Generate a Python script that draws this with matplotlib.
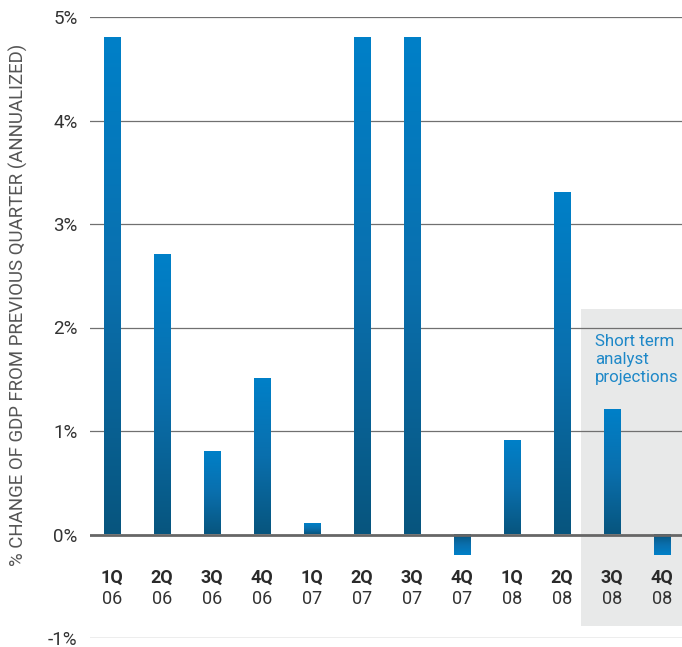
import numpy as np
import matplotlib
matplotlib.use("Agg")
import matplotlib.pyplot as plt
from matplotlib.patches import Rectangle
from matplotlib.colors import LinearSegmentedColormap

plt.rcParams["font.family"] = ["Roboto", "DejaVu Sans"]

# Data
quarters = ["1Q", "2Q", "3Q", "4Q", "1Q", "2Q", "3Q", "4Q", "1Q", "2Q", "3Q", "4Q"]
years = ["06", "06", "06", "06", "07", "07", "07", "07", "08", "08", "08", "08"]
gdp_change = [4.8, 2.7, 0.8, 1.5, 0.1, 4.8, 4.8, -0.2, 0.9, 3.3, 1.2, -0.2]
y_ticks = [-1, 0, 1, 2, 3, 4, 5]
y_tick_labels = ["-1%", "0%", "1%", "2%", "3%", "4%", "5%"]
projection_start = 9.38
projection_range = (-0.88, 2.18)

fig = plt.figure(figsize=(6.82, 6.47), dpi=100)
ax = fig.add_axes([90 / 682, 9 / 647, 1 - 90 / 682, (638 - 17) / 647])

xlim = (-0.44, 11.4)
ylim = (-1, 5)

# gray projection box
ax.add_patch(Rectangle((projection_start, projection_range[0]),
                       xlim[1] - projection_start + 1,
                       projection_range[1] - projection_range[0],
                       facecolor="#e8e9e9", edgecolor="none", zorder=0))

# gridlines
for t in y_ticks:
    if t == 0:
        ax.axhline(t, color="#666666", linewidth=2.0, zorder=3)
    else:
        ax.axhline(t, color="#707070", linewidth=0.9, zorder=1)

# gradient bars
cmap = LinearSegmentedColormap.from_list("bar", ["#07557e", "#0a6fad", "#0080c8"])
grad = np.linspace(0, 1, 256).reshape(-1, 1)
width = 0.34
for i, v in enumerate(gdp_change):
    if v >= 0:
        img = grad[::-1]
        ext = [i - width / 2, i + width / 2, 0, v]
    else:
        img = grad
        ext = [i - width / 2, i + width / 2, v, 0]
    ax.imshow(img, cmap=cmap, extent=ext, aspect="auto",
              interpolation="bilinear", zorder=2)

# x labels
for i, (q, yr) in enumerate(zip(quarters, years)):
    ax.text(i, -0.415, q, ha="center", va="center", fontsize=13,
            fontweight="bold", color="#2a2a2a")
    ax.text(i, -0.62, yr, ha="center", va="center", fontsize=13,
            color="#333333")

ax.text(9.66, 1.94, "Short term\nanalyst\nprojections", ha="left", va="top",
        fontsize=12.2, color="#1e88c8", linespacing=1.25)

ax.set_xlim(*xlim)
ax.set_ylim(*ylim)
ax.set_yticks(y_ticks)
ax.set_yticklabels(y_tick_labels, fontsize=13.5, color="#333333")
ax.set_xticks([])
ax.tick_params(axis="y", length=0, pad=9)
for s in ax.spines.values():
    s.set_visible(False)

fig.text(18 / 682, 1 - 305 / 647, "% CHANGE OF GDP FROM PREVIOUS QUARTER (ANNUALIZED)",
         rotation=90, ha="center", va="center", fontsize=13.4, color="#555555")

fig.savefig("out.png", dpi=100)
